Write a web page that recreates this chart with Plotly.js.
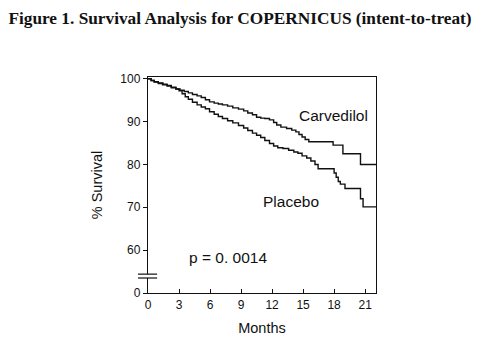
<!DOCTYPE html>
<html>
<head>
<meta charset="utf-8">
<script src="https://cdn.plot.ly/plotly-3.0.1.min.js"></script>
<style>html,body{margin:0;padding:0;background:#fff;}#chart{width:480px;height:338px;}</style>
</head>
<body>
<div id="chart"></div>
<script>
// Kaplan-Meier step points (months, % survival)
const carvedilolMonths = [0,0.3,0.6,1.0,1.4,1.85,2.25,2.7,3.1,3.5,3.9,4.3,4.75,5.15,5.55,5.95,6.4,6.8,7.2,7.7,8.2,8.75,9.25,9.65,10.1,10.5,10.9,11.3,11.75,12.15,12.45,12.85,13.4,13.9,14.3,14.6,14.9,15.2,15.55,17.9,18.85,20.55,22.05];
const carvedilolSurvival = [100,99.6,99.2,98.9,98.6,98.3,97.9,97.6,97.3,97.0,96.7,96.3,96.0,95.6,95.1,94.6,94.3,94.1,93.9,93.6,93.2,92.9,92.5,92.0,91.6,91.0,90.8,90.7,90.4,89.8,89.2,88.7,88.4,88.0,87.6,87.0,86.4,85.8,85.3,84.5,82.5,80.0,80.0];
const placeboMonths = [0,0.3,0.6,1.0,1.45,1.85,2.25,2.7,3.0,3.3,3.6,3.9,4.3,4.75,5.15,5.55,5.95,6.4,6.8,7.2,7.7,8.2,8.75,9.25,9.65,10.1,10.5,10.9,11.3,11.75,12.15,12.55,13.05,13.6,14.1,14.5,14.9,15.35,15.75,16.15,16.45,18.0,18.2,18.4,18.6,19.05,20.55,20.8,22.05];
const placeboSurvival = [100,99.6,99.3,99.0,98.7,98.4,98.0,97.6,97.2,96.5,95.8,95.2,94.5,93.9,93.4,93.0,92.3,91.7,91.2,90.7,90.2,89.7,89.1,88.5,87.9,87.3,86.8,86.3,85.6,84.9,84.3,83.9,83.7,83.3,82.9,82.6,82.0,81.5,80.8,80.0,79.0,78.0,77.0,76.0,75.4,74.4,72.0,70.1,70.1];

const xTickVals = [0,3,6,9,12,15,18,21];
// broken y axis: the "0" label sits where 50 would be
const yTickVals = [50,60,70,80,90,100];
const yTickText = ['0','60','70','80','90','100'];
const pValueText = 'p = 0. 0014';

const lineStyle = {color:'#111', width:1.4, shape:'hv'};
const traces = [
  {x: carvedilolMonths, y: carvedilolSurvival, type:'scatter', mode:'lines', name:'Carvedilol', line: lineStyle},
  {x: placeboMonths, y: placeboSurvival, type:'scatter', mode:'lines', name:'Placebo', line: lineStyle}
];

const sans = 'Liberation Sans, Arial, Helvetica, sans-serif';
const layout = {
  width:480, height:338,
  margin:{l:148, r:103.5, t:76.5, b:44.7, pad:0},
  paper_bgcolor:'#fff', plot_bgcolor:'#fff',
  showlegend:false,
  font:{family:sans, color:'#111', size:12},
  title:{text:'<b>Figure 1. Survival Analysis for COPERNICUS (intent-to-treat)</b>',
    font:{family:'Liberation Serif, Times New Roman, serif', size:17.3, color:'#111'},
    x:0.5, xanchor:'center', y:1-18/338, yanchor:'middle'},
  xaxis:{range:[0,22.05], tickvals:xTickVals, ticktext:xTickVals.map(String),
    ticks:'inside', ticklen:4, tickcolor:'#111', tickwidth:1,
    showline:true, linecolor:'#111', linewidth:1.2, mirror:true,
    showgrid:false, zeroline:false, fixedrange:true,
    tickfont:{size:12, family:sans},
    title:{text:'Months', font:{size:14.5, family:sans}, standoff:12}},
  yaxis:{range:[50,100.4], tickvals:yTickVals, ticktext:yTickText,
    ticks:'outside', ticklen:4, tickcolor:'#111', tickwidth:1,
    showline:true, linecolor:'#111', linewidth:1.2, mirror:true,
    showgrid:false, zeroline:false, fixedrange:true,
    tickfont:{size:12, family:sans},
    title:{text:'% Survival', font:{size:14.5, family:sans}, standoff:14}},
  shapes:[
    {type:'rect', xref:'paper', yref:'y', x0:-0.02, x1:0.02, y0:53.5, y1:54.4, fillcolor:'#fff', line:{width:0}, layer:'above'},
    {type:'line', xref:'paper', yref:'y', x0:-0.044, x1:0.04, y0:53.5, y1:53.5, line:{color:'#111', width:1.2}, layer:'above'},
    {type:'line', xref:'paper', yref:'y', x0:-0.044, x1:0.04, y0:54.4, y1:54.4, line:{color:'#111', width:1.2}, layer:'above'}
  ],
  annotations:[
    {x:17.9, y:91.5, xref:'x', yref:'y', text:'Carvedilol', showarrow:false, font:{size:15.5, family:sans, color:'#111'}},
    {x:13.8, y:71.3, xref:'x', yref:'y', text:'Placebo', showarrow:false, font:{size:15.5, family:sans, color:'#111'}},
    {x:7.7, y:58.3, xref:'x', yref:'y', text:pValueText, showarrow:false, font:{size:15.5, family:sans, color:'#111'}}
  ]
};
Plotly.newPlot('chart', traces, layout, {displayModeBar:false, staticPlot:true});
</script>
</body>
</html>
